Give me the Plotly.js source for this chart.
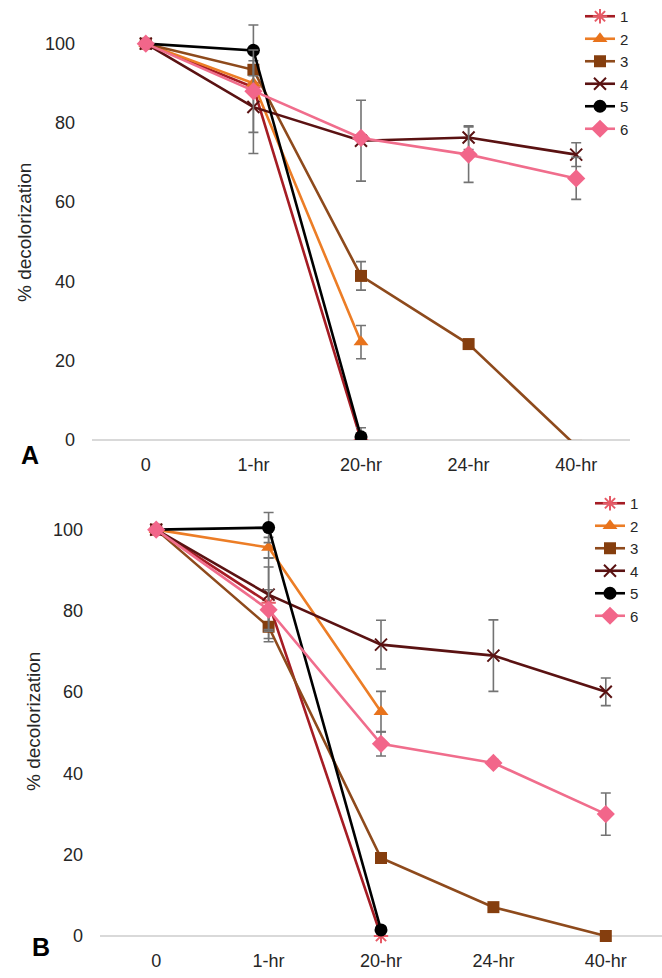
<!DOCTYPE html>
<html>
<head>
<meta charset="utf-8">
<script src="https://cdn.plot.ly/plotly-3.0.1.min.js"></script>
<style>html,body{margin:0;padding:0;background:#fff;}#chart{width:662px;height:978px;}</style>
</head>
<body>
<div id="chart"></div>
<script>
// ---- data ----
const categories = ['0', '1-hr', '20-hr', '24-hr', '40-hr'];
const seriesNames = ['1', '2', '3', '4', '5', '6'];

// Panel A
const a1 = [100, 89, 0, null, null];
const a2 = [100, 90, 24.7, null, null];
const a3 = [100, 93.4, 41.4, 24.2, -1.5];
const a4 = [100, 84, 75.5, 76.3, 72];
const a5 = [100, 98.3, 0.8, null, null];
const a6 = [100, 88, 76.2, 72, 66];
const a1Err = [0, 0, 0, 0, 0];
const a2Err = [0, 0, 4.2, 0, 0];
const a3Err = [0, 0, 3.6, 0, 0];
const a4Err = [0, 11.7, 10.2, 3, 3];
const a5Err = [0, 6.4, 2.3, 0, 0];
const a6Err = [0, 10.4, 0, 7, 5.3];

// Panel B
const b1 = [100, 82, 0, null, null];
const b2 = [100, 95.6, 55.2, null, null];
const b3 = [100, 76.1, 19.2, 7.1, 0];
const b4 = [100, 84, 71.7, 69, 60.1];
const b5 = [100, 100.5, 1.5, null, null];
const b6 = [100, 80.3, 47.3, 42.6, 30];
const b1Err = [0, 8.8, 0, 0, 0];
const b2Err = [0, 2.5, 5, 0, 0];
const b3Err = [0, 3.7, 0, 0, 0];
const b4Err = [0, 9, 6, 8.8, 3.4];
const b5Err = [0, 3.7, 0, 0, 0];
const b6Err = [0, 4.9, 3, 0.8, 5.2];

// ---- styles ----
const styles = [
  {line: '#a51c24', symbol: 'asterisk-open', fill: '#e65a66', size: 12},
  {line: '#ec7d26', symbol: 'triangle-up', fill: '#e8731c', size: 13},
  {line: '#8e4a1c', symbol: 'square', fill: '#853e0e', size: 12},
  {line: '#5a1212', symbol: 'x-thin-open', fill: '#5a1212', size: 12},
  {line: '#000000', symbol: 'circle', fill: '#000000', size: 13},
  {line: '#f06d8c', symbol: 'diamond', fill: '#f2668a', size: 14}
];

function makeTrace(vals, errs, i, xa, ya, legend, clip) {
  const s = styles[i];
  const open = s.symbol.indexOf('open') >= 0;
  return {
    type: 'scatter', mode: 'lines+markers',
    x: categories, y: vals,
    name: seriesNames[i],
    xaxis: xa, yaxis: ya, legend: legend,
    line: {color: s.line, width: 2.6},
    marker: {symbol: s.symbol, size: s.size, color: s.fill,
             line: {color: s.fill, width: open ? 2 : 0}},
    error_y: {type: 'data', array: errs, visible: true, color: '#737373', thickness: 1.6, width: 5},
    cliponaxis: clip
  };
}

const aVals = [a1, a2, a3, a4, a5, a6];
const aErrs = [a1Err, a2Err, a3Err, a4Err, a5Err, a6Err];
const bVals = [b1, b2, b3, b4, b5, b6];
const bErrs = [b1Err, b2Err, b3Err, b4Err, b5Err, b6Err];

const traces = [];
for (let i = 0; i < 6; i++) traces.push(makeTrace(aVals[i], aErrs[i], i, 'x', 'y', 'legend', true));
for (let i = 0; i < 6; i++) traces.push(makeTrace(bVals[i], bErrs[i], i, 'x2', 'y2', 'legend2', false));

const W = 662, H = 978;
const px = v => v / W;
const py = v => (H - v) / H;
const font = 'Liberation Sans, Arial, sans-serif';

const xCommon = {
  type: 'category', range: [-0.5, 4.5], showgrid: false, zeroline: false,
  showline: false, ticks: '', ticklabelstandoff: 12,
  tickfont: {family: font, size: 18, color: '#262626'}, fixedrange: true
};
const yCommon = {
  range: [0, 110], tickvals: [0, 20, 40, 60, 80, 100], showgrid: false, zeroline: true,
  zerolinecolor: '#d9d9d9', zerolinewidth: 1.6, showline: false, ticks: '',
  ticklabelstandoff: 16, tickfont: {family: font, size: 18, color: '#262626'}, fixedrange: true
};

const layout = {
  width: W, height: H,
  margin: {l: 0, r: 0, t: 0, b: 0},
  paper_bgcolor: '#ffffff', plot_bgcolor: 'rgba(0,0,0,0)',
  showlegend: true,
  xaxis: Object.assign({}, xCommon, {domain: [px(92), px(630)], anchor: 'y'}),
  yaxis: Object.assign({}, yCommon, {domain: [py(440), py(4)], anchor: 'x'}),
  xaxis2: Object.assign({}, xCommon, {domain: [px(100), px(662)], anchor: 'y2'}),
  yaxis2: Object.assign({}, yCommon, {domain: [py(936), py(489)], anchor: 'x2'}),
  legend: {x: px(580), y: 1, xanchor: 'left', yanchor: 'top', bgcolor: 'rgba(0,0,0,0)',
           font: {family: font, size: 15, color: '#262626'}, tracegroupgap: 0, itemwidth: 30},
  legend2: {x: px(590), y: py(487), xanchor: 'left', yanchor: 'top', bgcolor: 'rgba(0,0,0,0)',
           font: {family: font, size: 15, color: '#262626'}, tracegroupgap: 0, itemwidth: 30},
  annotations: [
    {text: '% decolorization', xref: 'paper', yref: 'paper', x: px(24), y: py(233), textangle: -90,
     showarrow: false, font: {family: font, size: 19, color: '#262626'}, xanchor: 'center', yanchor: 'middle'},
    {text: '% decolorization', xref: 'paper', yref: 'paper', x: px(33), y: py(722), textangle: -90,
     showarrow: false, font: {family: font, size: 19, color: '#262626'}, xanchor: 'center', yanchor: 'middle'},
    {text: '<b>A</b>', xref: 'paper', yref: 'paper', x: px(30), y: py(455), showarrow: false,
     font: {family: font, size: 25, color: '#000'}, xanchor: 'center', yanchor: 'middle'},
    {text: '<b>B</b>', xref: 'paper', yref: 'paper', x: px(41), y: py(947), showarrow: false,
     font: {family: font, size: 25, color: '#000'}, xanchor: 'center', yanchor: 'middle'}
  ]
};

Plotly.newPlot('chart', traces, layout, {staticPlot: true, displayModeBar: false});
</script>
</body>
</html>
